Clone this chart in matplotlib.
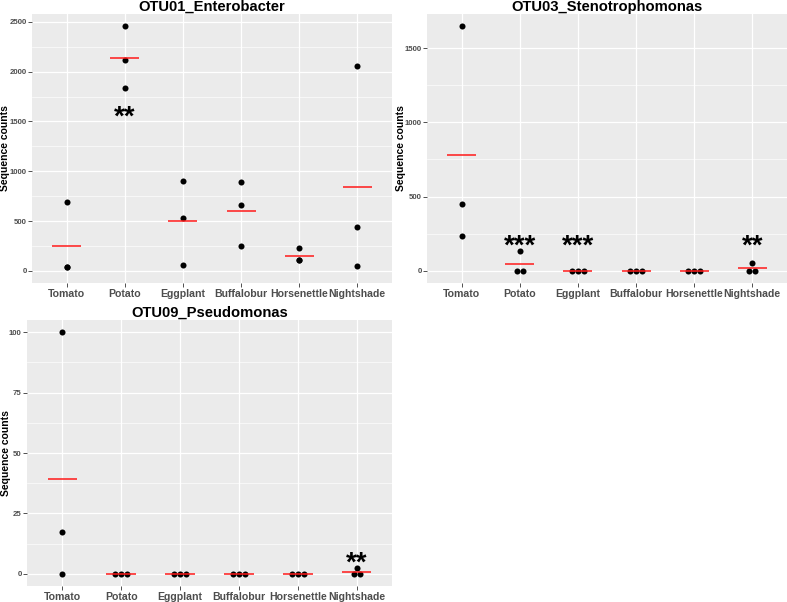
import numpy as np
import matplotlib
matplotlib.use("Agg")
import matplotlib.pyplot as plt
from matplotlib.ticker import MultipleLocator

plt.rcParams['font.family'] = ['Liberation Sans', 'DejaVu Sans']

categories = ['Tomato', 'Potato', 'Eggplant', 'Buffalobur', 'Horsenettle', 'Nightshade']

# OTU01_Enterobacter
otu01_values = [[687, 36, 33], [2457, 2113, 1837], [897, 530, 63],
                [896, 663, 246], [233, 111, 106], [2053, 437, 43]]
otu01_means = [252, 2136, 497, 602, 150, 844]
otu01_stars = {'Potato': ('**', 1628)}

# OTU03_Stenotrophomonas
otu03_values = [[1647, 450, 235], [130, 0, 0], [0, 0, 0],
                [0, 0, 0], [0, 0, 0], [50, 0, 0]]
otu03_means = [777, 43, 0, 0, 0, 17]
otu03_stars = {'Potato': ('***', 225), 'Eggplant': ('***', 225), 'Nightshade': ('**', 225)}

# OTU09_Pseudomonas
otu09_values = [[100, 17.4, 0], [0, 0, 0], [0, 0, 0],
                [0, 0, 0], [0, 0, 0], [2.5, 0, 0]]
otu09_means = [39.1, 0, 0, 0, 0, 0.83]
otu09_stars = {'Nightshade': ('**', 8.1)}

titles = ['OTU01_Enterobacter', 'OTU03_Stenotrophomonas', 'OTU09_Pseudomonas']
y_major = [500, 500, 25]

W, H = 787, 602
fig = plt.figure(figsize=(W / 100, H / 100), dpi=100)
fig.patch.set_facecolor('white')

# panel boxes in pixels: left, right, top, bottom, y-label centre x
boxes = [(32, 392, 14, 283, 5.5), (427, 787, 14, 283, 401), (27, 392, 320, 586, 6)]
axes = []
for (l, r, t, b, _) in boxes:
    axes.append(fig.add_axes([l / W, (H - b) / H, (r - l) / W, (b - t) / H]))

datasets = [(otu01_values, otu01_means, otu01_stars),
            (otu03_values, otu03_means, otu03_stars),
            (otu09_values, otu09_means, otu09_stars)]

spacing = 0.105
for ax, box, (vals, means, stars), title, ym in zip(axes, boxes, datasets, titles, y_major):
    l, r, t, b, labx = box
    ax.set_facecolor('#EBEBEB')
    for s in ax.spines.values():
        s.set_visible(False)
    vmax = max(max(v) for v in vals)
    ax.set_ylim(-0.05 * vmax, 1.05 * vmax)
    ax.set_xlim(-0.6, len(categories) - 0.4)
    ax.yaxis.set_major_locator(MultipleLocator(ym))
    ax.yaxis.set_minor_locator(MultipleLocator(ym / 2))
    ax.set_xticks(range(len(categories)))
    ax.set_xticklabels(categories)
    ax.grid(which='major', color='white', linewidth=0.9)
    ax.grid(which='minor', axis='y', color='white', linewidth=0.45)
    ax.set_axisbelow(True)
    ax.tick_params(axis='both', which='major', length=2.75, width=0.6, color='#333333')
    ax.tick_params(axis='y', which='minor', length=0)
    ax.tick_params(axis='x', pad=1.5, labelsize=7.6, labelcolor='#4D4D4D')
    ax.tick_params(axis='y', pad=1.0, labelsize=5.6, labelcolor='#4D4D4D')
    for lab in ax.get_xticklabels() + ax.get_yticklabels():
        lab.set_fontweight('bold')
    ax.set_ylabel('Sequence counts', fontsize=7.5, fontweight='bold')
    ax.yaxis.label.set_verticalalignment('center')
    ax.yaxis.set_label_coords((labx - l) / (r - l), 0.5)
    ax.set_title(title, fontsize=10.6, fontweight='bold', pad=2.2)

    for i, v in enumerate(vals):
        v = np.array(v, dtype=float)
        xs = np.full(len(v), float(i))
        for u in np.unique(v):
            idx = np.where(v == u)[0]
            k = len(idx)
            xs[idx] = i + (np.arange(k) - (k - 1) / 2) * spacing
        ax.scatter(xs, v, s=19, color='black', zorder=3, linewidths=0)
        ax.hlines(means[i], i - 0.25, i + 0.25, color='#FF1A1A', linewidth=1.1, zorder=4)

    for cat, (txt, yv) in stars.items():
        xi = categories.index(cat)
        ax.annotate(txt, (xi, yv), xytext=(0, -11.5), textcoords='offset points',
                    ha='center', va='baseline', fontsize=20, fontweight='bold',
                    color='black', zorder=5)

fig.savefig('out.png', dpi=100, facecolor='white')
